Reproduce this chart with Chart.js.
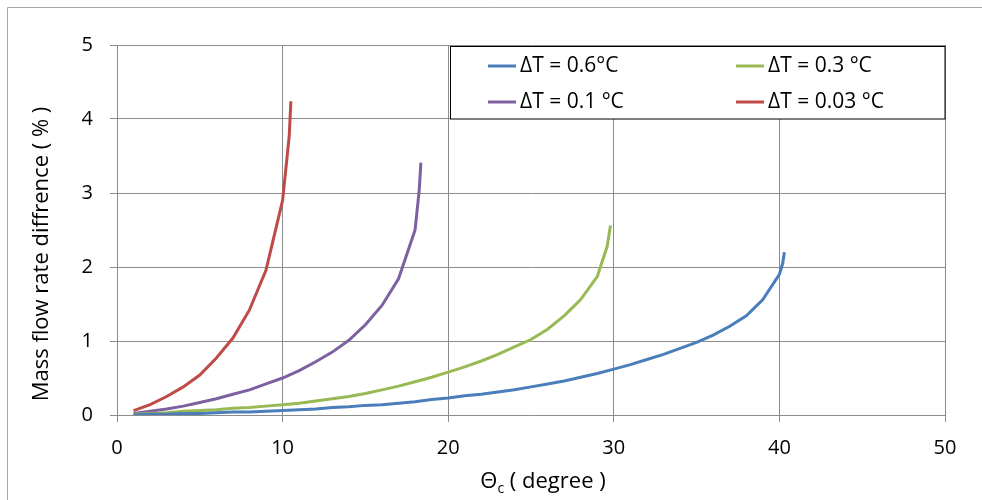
<!DOCTYPE html>
<html>
<head>
<meta charset="utf-8">
<title>Mass flow rate diffrence</title>
<script src="https://cdn.jsdelivr.net/npm/chart.js@4/dist/chart.umd.min.js"></script>
<style>
  html, body { margin: 0; padding: 0; background: #fff; }
  #wrap { width: 982px; height: 500px; }
</style>
</head>
<body>
<div id="wrap"><canvas id="massChart" width="982" height="500"></canvas></div>
<script>
// Values (theta_c in degrees, difference in %)
const X_06  = [1, 2, 3, 4, 5, 6, 7, 8, 9, 10, 11, 12, 13, 14, 15, 16, 17, 18, 19, 20,
               21, 22, 23, 24, 25, 26, 27, 28, 29, 30, 31, 32, 33, 34, 35, 36, 37, 38, 39, 40, 40.2, 40.3];
const Y_06  = [0.00, 0.01, 0.01, 0.02, 0.02, 0.03, 0.04, 0.04, 0.05, 0.06, 0.07, 0.08, 0.10, 0.11, 0.13, 0.14, 0.16, 0.18, 0.21, 0.23,
               0.26, 0.28, 0.31, 0.34, 0.38, 0.42, 0.46, 0.51, 0.56, 0.62, 0.68, 0.75, 0.82, 0.90, 0.98, 1.08, 1.20, 1.34, 1.56, 1.90, 2.05, 2.20];

const X_03  = [1, 2, 3, 4, 5, 6, 7, 8, 9, 10, 11, 12, 13, 14, 15, 16, 17, 18, 19, 20,
               21, 22, 23, 24, 25, 26, 27, 28, 29, 29.6, 29.8];
const Y_03  = [0.01, 0.02, 0.03, 0.05, 0.06, 0.07, 0.09, 0.10, 0.12, 0.14, 0.16, 0.19, 0.22, 0.25, 0.29, 0.34, 0.39, 0.45, 0.51, 0.58,
               0.65, 0.73, 0.82, 0.92, 1.02, 1.16, 1.34, 1.56, 1.87, 2.28, 2.56];

const X_01  = [1, 2, 3, 4, 5, 6, 7, 8, 9, 10, 11, 12, 13, 14, 15, 16, 17, 18, 18.25, 18.35];
const Y_01  = [0.02, 0.05, 0.08, 0.12, 0.17, 0.22, 0.28, 0.34, 0.42, 0.50, 0.60, 0.72, 0.85, 1.01, 1.22, 1.48, 1.84, 2.50, 3.04, 3.41];

const X_003 = [1, 2, 3, 4, 5, 6, 7, 8, 9, 10, 10.4, 10.5];
const Y_003 = [0.06, 0.14, 0.25, 0.38, 0.54, 0.77, 1.04, 1.42, 1.96, 2.90, 3.77, 4.24];

const SERIES_LABELS = ['ΔT = 0.6°C', 'ΔT = 0.3 °C', 'ΔT = 0.1 °C', 'ΔT = 0.03 °C'];
const SERIES_COLORS = ['#4a7ebb', '#98b954', '#7d60a0', '#be4b48'];
const X_TICKS = [0, 10, 20, 30, 40, 50];
const Y_TICKS = [0, 1, 2, 3, 4, 5];

const FONT = '"Open Sans", Lato, sans-serif';
const GRID = '#8c8c8c';

function pairs(xs, ys) {
    return xs.map((x, i) => ({ x: x, y: ys[i] }));
}

const seriesData = [pairs(X_06, Y_06), pairs(X_03, Y_03), pairs(X_01, Y_01), pairs(X_003, Y_003)];

// Frame, axis titles and boxed legend (Excel style)
const excelDecor = {
    id: 'excelDecor',
    beforeDraw(chart) {
        const ctx = chart.ctx;
        ctx.save();
        ctx.fillStyle = '#fff';
        ctx.fillRect(0, 0, chart.width, chart.height);
        ctx.strokeStyle = '#a6a6a6';
        ctx.lineWidth = 1;
        ctx.beginPath();
        ctx.moveTo(7.5, chart.height);
        ctx.lineTo(7.5, 7.5);
        ctx.lineTo(chart.width, 7.5);
        ctx.stroke();
        ctx.restore();
    },
    afterDraw(chart) {
        const ctx = chart.ctx;
        ctx.save();
        ctx.fillStyle = '#000';
        ctx.textBaseline = 'middle';

        // y title
        ctx.save();
        ctx.translate(42, 254);
        ctx.rotate(-Math.PI / 2);
        ctx.textAlign = 'center';
        ctx.font = '22px ' + FONT;
        ctx.fillText('Mass flow rate diffrence ( % )', 0, 0);
        ctx.restore();

        // x title with subscript
        ctx.font = '22px ' + FONT;
        const a = 'Θ', b = 'c', c = ' ( degree )';
        const wa = ctx.measureText(a).width;
        const wc = ctx.measureText(c).width;
        ctx.font = '14px ' + FONT;
        const wb = ctx.measureText(b).width;
        let x = 543 - (wa + wb + wc) / 2;
        const y = 482;
        ctx.textAlign = 'left';
        ctx.font = '22px ' + FONT;
        ctx.fillText(a, x, y);
        x += wa;
        ctx.font = '14px ' + FONT;
        ctx.fillText(b, x, y + 7);
        x += wb;
        ctx.font = '22px ' + FONT;
        ctx.fillText(c, x, y);

        // legend box
        const bx = 450.5, by = 46.5, bw = 494.5, bh = 72.5;
        ctx.fillStyle = '#fff';
        ctx.fillRect(bx, by, bw, bh);
        ctx.strokeStyle = '#000';
        ctx.lineWidth = 1;
        ctx.strokeRect(bx, by, bw, bh);
        const cols = [488, 736];
        const rows = [66, 102];
        ctx.font = '21px ' + FONT;
        chart.data.datasets.forEach((ds, i) => {
            const lx = cols[i % 2], ly = rows[Math.floor(i / 2)];
            ctx.strokeStyle = ds.borderColor;
            ctx.lineWidth = 3;
            ctx.beginPath();
            ctx.moveTo(lx, ly);
            ctx.lineTo(lx + 28, ly);
            ctx.stroke();
            ctx.fillStyle = '#000';
            ctx.fillText(ds.label, lx + 32, ly);
        });
        ctx.restore();
    }
};

new Chart(document.getElementById('massChart').getContext('2d'), {
    type: 'scatter',
    data: {
        datasets: seriesData.map((d, i) => ({
            label: SERIES_LABELS[i],
            data: d,
            showLine: true,
            borderColor: SERIES_COLORS[i],
            backgroundColor: SERIES_COLORS[i],
            borderWidth: 3,
            pointRadius: 0,
            tension: 0
        }))
    },
    options: {
        responsive: false,
        animation: false,
        events: [],
        layout: { padding: { top: 45, right: 37, left: 0, bottom: 0 } },
        plugins: {
            legend: { display: false },
            tooltip: { enabled: false }
        },
        scales: {
            x: {
                type: 'linear',
                min: X_TICKS[0],
                max: X_TICKS[X_TICKS.length - 1],
                afterBuildTicks: s => { s.ticks = X_TICKS.map(v => ({ value: v })); },
                afterFit: s => { s.height = 85; },
                grid: { color: GRID, lineWidth: 1, tickLength: 7 },
                border: { color: GRID },
                ticks: { color: '#000', font: { family: FONT, size: 20 }, padding: 14 }
            },
            y: {
                type: 'linear',
                min: Y_TICKS[0],
                max: Y_TICKS[Y_TICKS.length - 1],
                afterBuildTicks: s => { s.ticks = Y_TICKS.map(v => ({ value: v })); },
                afterFit: s => { s.width = 117; },
                grid: { color: GRID, lineWidth: 1, tickLength: 7 },
                border: { color: GRID },
                ticks: { color: '#000', font: { family: FONT, size: 20 }, padding: 17 }
            }
        }
    },
    plugins: [excelDecor]
});
</script>
</body>
</html>
